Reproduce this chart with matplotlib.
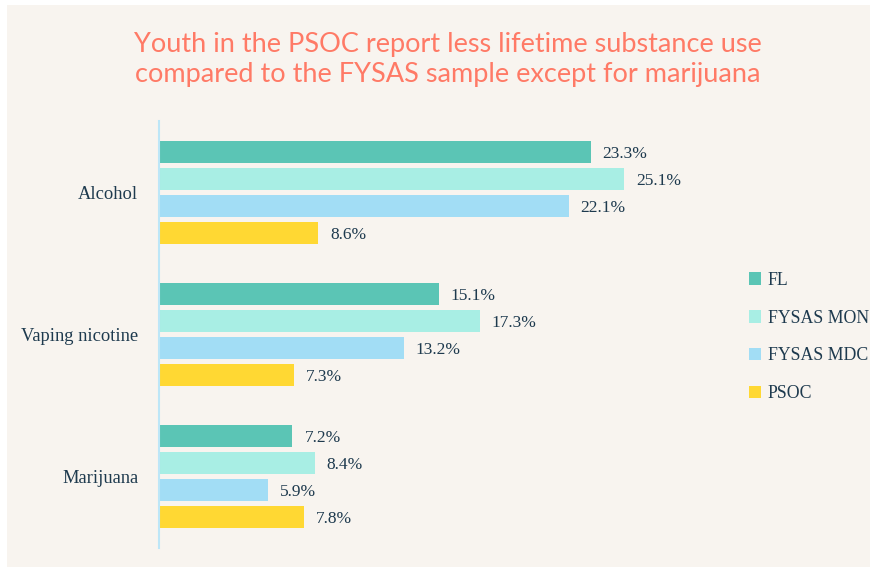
import matplotlib.pyplot as plt
from matplotlib.patches import Rectangle
import numpy as np

# lifetime substance use, percent of youth
categories = ['Alcohol', 'Vaping nicotine', 'Marijuana']
series = ['FL', 'FYSAS MON', 'FYSAS MDC', 'PSOC']
fl = [23.3, 15.1, 7.2]
fysas_mon = [25.1, 17.3, 8.4]
fysas_mdc = [22.1, 13.2, 5.9]
psoc = [8.6, 7.3, 7.8]

colors = ['#5BC5B5', '#A8EEE4', '#A2DDF5', '#FFD833']
text_color = '#1E3A4E'
serif = ['Liberation Serif', 'DejaVu Serif']

W, H = 877, 569
fig = plt.figure(figsize=(W / 100, H / 100), dpi=100)
fig.patch.set_facecolor('white')

# beige panel behind everything
fig.patches.append(Rectangle((7 / W, 1 - 567 / H), (870 - 7) / W, (567 - 5) / H,
                             transform=fig.transFigure, facecolor='#F8F4EF',
                             edgecolor='none', zorder=-5))

fig.text(448 / W, 1 - 59.5 / H,
         'Youth in the PSOC report less lifetime substance use\n'
         'compared to the FYSAS sample except for marijuana',
         ha='center', va='center', color='#FF7A66', fontsize=19.5,
         family=['Lato', 'DejaVu Sans'], linespacing=1.25)

# axes placed so that 0% sits on the light blue baseline
left, right = 159, 859
top, bottom = 121, 548
ax = fig.add_axes([left / W, 1 - bottom / H, (right - left) / W, (bottom - top) / H])
ax.set_facecolor('none')
ax.set_zorder(2)

px_per_pct = 18.53
ax.set_xlim(0, (right - left) / px_per_pct)
ax.set_ylim(2.5, -0.5)

pitch = 27 / 142.3
bar_h = 22 / 142.3
y = np.arange(len(categories))
values = [fl, fysas_mon, fysas_mdc, psoc]
for i, (vals, name, c) in enumerate(zip(values, series, colors)):
    pos = y + (i - 1.5) * pitch
    ax.barh(pos, vals, height=bar_h, color=c, label=name, zorder=2)
    for yy, v in zip(pos, vals):
        ax.text(v + 12 / px_per_pct, yy, f'{v}%', va='center_baseline', ha='left',
                color=text_color, fontsize=12.5, family=serif)

for s in ['top', 'right', 'bottom']:
    ax.spines[s].set_visible(False)
ax.spines['left'].set_color('#BDE6F7')
ax.spines['left'].set_linewidth(1.5)
ax.set_xticks([])
ax.set_yticks(y)
ax.set_yticklabels(categories, family=serif, fontsize=13.3, color=text_color)
ax.tick_params(axis='y', length=0, pad=15)

leg = fig.legend(loc='center left', bbox_to_anchor=(740 / W, 1 - 337 / H),
                 frameon=False, prop={'family': serif, 'size': 12.8},
                 handlelength=0.7, handleheight=0.7, handletextpad=0.35,
                 labelspacing=1.18, borderpad=0)
for t in leg.get_texts():
    t.set_color(text_color)

fig.savefig('out.png', dpi=100, facecolor=fig.get_facecolor())
